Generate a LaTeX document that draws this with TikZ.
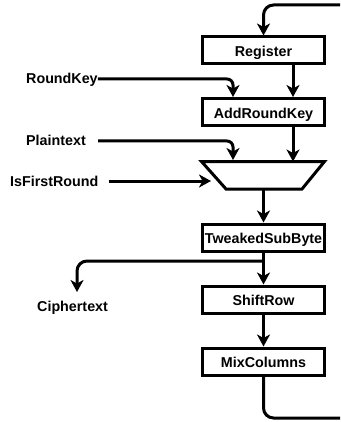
\documentclass[tikz,border=0pt]{standalone}
\usepackage{fontspec}
\setmainfont{Liberation Sans}
\usetikzlibrary{arrows.meta}
\begin{document}
\begin{tikzpicture}[x=1pt,y=-1pt,
  every node/.style={font=\fontsize{14.3}{17}\selectfont\bfseries},
  blk/.style={draw,line width=3pt,minimum width=122pt,minimum height=27pt,inner sep=0pt,text height=12.4pt,text depth=0pt},
  lbl/.style={inner sep=0pt,anchor=base west},
  wire/.style={line width=3pt},
  arr/.style={wire,-{Stealth[length=12pt,width=13pt,inset=3.5pt]}}]
\useasboundingbox (0,0) rectangle (340,422);
% blocks
\node[blk] (reg) at (263.5,50.5) {Register};
\node[blk] (add) at (263.5,112) {AddRoundKey};
\node[blk] (sub) at (263.5,237.5) {TweakedSubByte};
\node[blk] (shift) at (263.5,299.5) {ShiftRow};
\node[blk] (mix) at (263.5,361.5) {MixColumns};
% mux
\coordinate (mtl) at (201.5,161.5);
\coordinate (mtr) at (324.5,161.5);
\coordinate (mbr) at (302,189);
\coordinate (mbl) at (226,189);
\draw[wire,line join=miter] (mtl) -- (mtr) -- (mbr) -- (mbl) -- cycle;
% labels
\node[lbl] (rk) at (26,84) {RoundKey};
\node[lbl] (pt) at (26,146) {Plaintext};
\node[lbl] (fr) at (10,186) {IsFirstRound};
\node[lbl] (ct) at (37,311) {Ciphertext};
% coordinates
\coordinate (ltop) at (340,5);
\coordinate (lbot) at (340,418);
\coordinate (ptin) at (233,160);
\coordinate (frin) at (211,181);
\coordinate (br) at (263.5,261);
\coordinate (ctin) at (77,292);
% connectors
\draw[arr,rounded corners=10pt] (ltop) -| (reg.north);
\draw[arr] ([xshift=29.5pt]reg.south) -- ([xshift=29.5pt]add.north);
\draw[arr,rounded corners=6pt] (rk.east |- 0,79) -| ([xshift=-30.5pt]add.north);
\draw[arr,rounded corners=6pt] ([xshift=12pt]pt.east |- 0,141) -| (ptin);
\draw[arr] ([xshift=29.5pt]add.south) -- ([xshift=29.5pt]add.south |- mtr);
\draw[arr] ([xshift=10pt]fr.east |- frin) -- (frin);
\draw[arr] (sub.north |- mbl) -- (sub.north);
\draw[arr] (sub.south) -- (shift.north);
\draw[arr,rounded corners=10pt] (br) -| (ctin);
\draw[arr] (shift.south) -- (mix.north);
\draw[wire,rounded corners=10pt] (mix.south) |- (lbot);
\end{tikzpicture}
\end{document}
